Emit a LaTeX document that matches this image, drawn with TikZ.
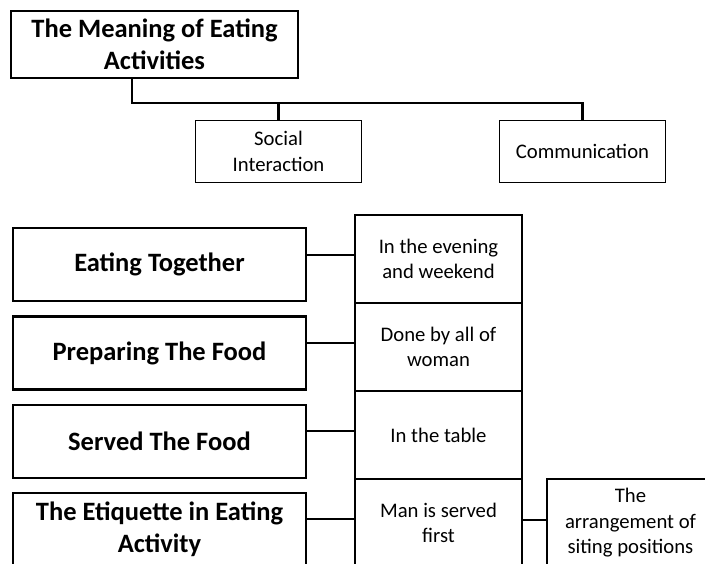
\documentclass[tikz,border=0pt]{standalone}
\usepackage{fontspec}
\setmainfont{Carlito}
\begin{document}
\begin{tikzpicture}[x=1pt,y=-1pt,
  thickbox/.style={draw,line width=2.6pt,font=\bfseries\fontsize{26.5}{31.5}\selectfont,align=center,inner sep=0pt},
  thinbox/.style={draw,line width=1.3pt,font=\fontsize{20.7}{25.5}\selectfont,align=center,inner sep=0pt},
  link/.style={line width=2.6pt}]
  \clip (0,0) rectangle (705,564);
  % meaning
  \node[thickbox,minimum width=287pt,minimum height=67pt] (title) at (154.5,44.5) {The Meaning of Eating\\Activities};
  \node[thinbox,minimum width=166pt,minimum height=62pt] (social) at (278.5,151.5) {Social\\Interaction};
  \node[thinbox,minimum width=166pt,minimum height=62pt] (comm) at (582.5,151.5) {Communication};
  \coordinate (bus) at (0,103);
  \draw[link] ([xshift=-22.5pt]title.south) |- (comm.north |- bus) -- (comm.north);
  \draw[link] (social.north) -- (social.north |- bus);
  % activities
  \node[thickbox,minimum width=293pt,minimum height=73pt] (eat) at (159.5,264.5) {Eating Together};
  \node[thickbox,minimum width=293pt,minimum height=73pt] (prep) at (159.5,353) {Preparing The Food};
  \node[thickbox,minimum width=293pt,minimum height=73pt] (serve) at (159.5,441.5) {Served The Food};
  \node[thickbox,minimum width=293pt,minimum height=73pt] (etiq) at (159.5,529.5) {The Etiquette in Eating\\Activity};
  \node[thinbox,minimum width=167pt,minimum height=88pt] (when) at (438.5,259) {In the evening\\and weekend};
  \node[thinbox,minimum width=167pt,minimum height=88pt] (who) at (438.5,347) {Done by all of\\woman};
  \node[thinbox,minimum width=167pt,minimum height=88pt] (where) at (438.5,435) {In the table};
  \node[thinbox,minimum width=167pt,minimum height=88pt] (first) at (438.5,523) {Man is served\\first};
  \node[thinbox,minimum width=167pt,minimum height=88pt] (seat) at (630.5,523) {The\\arrangement of\\siting positions};
  \foreach \l/\m in {eat/when,prep/who,serve/where,etiq/first}{
    \coordinate (\m-in) at ([yshift=4pt]\m.west);
    \draw[link] (\m-in) -- (\l.east |- \m-in);
  }
  \draw[link] ([yshift=3pt]first.east) -- ([yshift=3pt]seat.west);
\end{tikzpicture}
\end{document}
